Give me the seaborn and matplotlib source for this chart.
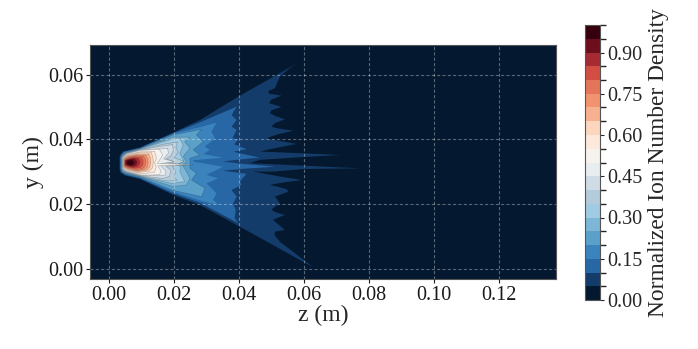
import numpy as np
import matplotlib
matplotlib.use('Agg')
import matplotlib.pyplot as plt
from matplotlib.cm import ScalarMappable
from matplotlib.colors import BoundaryNorm, ListedColormap
import seaborn as sns

# contour outlines, z and y in mm
z_05 = [57.7,55.6,52.6,51.1,49.0,49.3,53.1,50,49.3,53.1,50,49.5,51,54.1,51,50,52,56.7,52,49,48.9,53,57.7,52,46.4,60,71.1,60,46.4,43.4,60,77.3,60,50.6,44.4,52,59.3,54,49.5,52,54.7,55.2,53,51.1,52.6,51,50,51.5,54.1,52,50.5,52.5,54.1,51.1,51,52.6,62.9,40.3,28,19.7,9.5,4.8,3.5,3.2,3.2,3.5,4.3,9.5,19.7,28,39.8]
y_05 = [63.3,61.9,59.4,55.8,54.9,54.1,53.5,52.3,51.2,50,49,48.1,47.3,46.2,45,43.9,43.4,42.7,41.6,40.6,40.2,39.5,38.6,37.5,36.3,35.7,35.2,34.6,33.7,32.7,31.9,31.1,30.9,30.1,30.1,28.7,27.5,26.8,26,25.4,24.7,23.9,23.1,22.4,20.3,19.2,18.3,17.5,16.7,15.9,15.2,13.5,12.1,11.6,10.5,8.5,0.6,13.1,19.8,22.9,27.8,28.9,29.8,31,34.5,35.4,36.3,37.5,42.1,46,53.2]
z_10 = [39.3,37.7,39.3,37.7,39.3,38,39.8,38.5,42.3,38.3,46.4,40,35.1,42,51.1,42,35,42.3,40.3,40.8,37.7,39.3,38.2,39,38.7,39.8,28,19.7,9.5,5,3.7,3.4,3.4,3.7,4.5,9.5,19.7,28]
y_10 = [50.1,47.5,46,43.9,43,40.4,40,38.5,37,36.2,34.4,33.8,33.2,32.4,31.6,31,30.4,29.4,27,26,24.4,22.4,20.3,18.3,15.7,14.2,20.5,23.4,28,29.1,29.9,31,34.5,35.3,36.2,37.4,41.9,45.3]
z_15 = [33.1,31.5,32.6,29.5,31,29,35.1,26,25.9,35.1,30,33.6,30,33.1,32,33.6,28,19.7,9.5,5,3.9,3.6,3.6,3.9,4.7,9.5,19.7,28]
y_15 = [45.2,42.4,40.4,37.8,36.8,35.5,34.4,33.6,33.2,31.6,29.1,28,26.5,23.4,21.4,19.8,21.2,23.9,28.2,29.3,30,31,34.5,35.2,36.1,37.3,41.7,43.8]
z_20 = [28.5,26.9,29,25.9,28,24.9,24.9,26.9,25.4,29.5,28.5,19.7,9.5,5,4,3.7,3.7,4,4.9,9.5,19.7]
y_20 = [43.1,41.4,39.3,36.8,35.2,34.2,31.1,29.6,27.5,25,22.4,24.3,28.4,29.5,30.1,31,34.5,35.1,36,37.2,41.4]
z_25 = [24.9,23.3,24.9,22.8,23.8,22.5,23.8,24.9,23.8,19.7,9.5,5.1,4.1,3.8,3.8,4.1,5,9.5,19.7]
y_25 = [40.7,39.3,37.3,34.7,33,32.3,30.1,28,26,25.5,28.6,29.7,30.2,31,34.5,35,35.9,37.1,40.7]
z_30 = [21.8,22.8,21.8,23,21,22,21.8,23.3,19.2,12,9.5,5.2,4.2,3.9,3.9,4.2,5.2,9.5,18.7]
y_30 = [40.4,38.3,35.7,33.2,32.3,31.6,30.1,27,26.5,28,28.7,29.8,30.3,31,34.5,35,35.8,37,39.9]
z_35 = [21,20.6,21.3,20,23,19.5,20.5,20,21,18,12,9.5,5.3,4.3,4,4,4.3,5.3,9.5,17]
y_35 = [39.2,37.6,36,34.4,33.3,31.5,30.2,28.4,27.4,27.2,28.2,28.8,29.9,30.4,31.1,34.4,34.9,35.8,36.9,38.6]
z_40 = [19.5,19.8,19,17.5,20,17.5,24,17.5,19,18.6,16.5,12,9.5,5.4,4.4,4.1,4.1,4.4,5.4,9.5,15.5]
y_40 = [38.4,36.7,35,34,33.2,32.8,32.2,31.8,30.5,28.6,28,28.5,28.9,30,30.5,31.2,34.3,34.8,35.7,36.8,37.8]
z_45 = [18,18.3,16.8,20,16,16,17.5,17.3,15,12,9.5,5.5,4.5,4.2,4.2,4.5,5.5,9.5,14]
y_45 = [37.2,35.8,34,33.1,32.6,31.8,30.2,29,28.9,28.8,29,30.1,30.6,31.3,34.2,34.7,35.6,36.7,37]
z_50 = [15.5,16.5,15.5,14.8,26,15,16,15.5,12,9.5,5.6,4.6,4.3,4.3,4.6,5.6,9.5,13]
y_50 = [37,35.2,33.6,32.6,32.2,31.9,30.3,29.2,29,29.1,30.2,30.7,31.4,34.1,34.6,35.5,36.6,36.9]
z_55 = [14,14.6,14,14.5,14,11,9.5,5.7,4.7,4.4,4.4,4.7,5.7,9.5,11]
y_55 = [36.3,34.3,32.8,31.6,29.9,29.5,29.4,30.4,30.9,31.5,34,34.5,35.3,36.2,36.4]
z_60 = [13,13.5,13.6,13.3,12.4,9,5.8,4.8,4.5,4.5,4.8,5.8,9]
y_60 = [35.9,34.5,32.8,31.2,30.3,29.8,30.6,31.1,31.6,33.9,34.4,35.1,35.9]
z_65 = [12.2,12.7,12.8,12.5,11.7,9,5.9,4.9,4.6,4.6,4.9,5.9,9]
y_65 = [35.5,34.3,32.8,31.4,30.6,30.1,30.8,31.3,31.8,33.8,34.3,34.9,35.5]
z_70 = [11.3,11.9,12,11.7,11,8.5,6,5,4.7,4.7,5,6,8.5]
y_70 = [35.1,34.1,32.8,31.5,30.8,30.3,31,31.4,31.9,33.7,34.2,34.7,35.2]
z_75 = [10.6,11.2,11.3,11,10.3,8.5,6.1,5.1,4.8,4.8,5.1,6.1,8.5]
y_75 = [34.8,33.9,32.8,31.7,31,30.7,31.2,31.6,32,33.6,34,34.5,34.9]
z_80 = [9.9,10.4,10.5,10.2,9.6,8,6.2,5.2,4.9,4.9,5.2,6.2,8]
y_80 = [34.4,33.7,32.8,31.9,31.3,31.1,31.4,31.8,32.1,33.5,33.8,34.3,34.6]
z_85 = [9,9.4,9.5,9.2,8.6,7.5,6.3,5.3,5,5,5.3,6.3,7.5]
y_85 = [34.1,33.5,32.8,32.1,31.6,31.4,31.6,32,32.2,33.4,33.7,34,34.3]
z_90 = [8.1,8.5,8.5,8.1,7.4,6.4,5.4,5.1,5.1,5.4,6.4,7.4]
y_90 = [33.8,33.3,32.6,32.1,31.8,31.8,32.2,32.4,33.3,33.6,33.9,34]
z_95 = [7.2,7.6,7.5,6.9,6,5.5,5.5,6,6.9]
y_95 = [33.5,33,32.5,32.1,32.2,32.5,33.1,33.5,33.6]

outlines = [(z_05, y_05), (z_10, y_10), (z_15, y_15), (z_20, y_20), (z_25, y_25),
            (z_30, y_30), (z_35, y_35), (z_40, y_40), (z_45, y_45), (z_50, y_50),
            (z_55, y_55), (z_60, y_60), (z_65, y_65), (z_70, y_70), (z_75, y_75),
            (z_80, y_80), (z_85, y_85), (z_90, y_90), (z_95, y_95)]
levels = np.arange(0, 1.01, 0.05)
cbar_ticks = [0.0, 0.15, 0.30, 0.45, 0.60, 0.75, 0.90]
x_ticks = [0.00, 0.02, 0.04, 0.06, 0.08, 0.10, 0.12]
y_ticks = [0.00, 0.02, 0.04, 0.06]

band_colors = ['#04192f', '#143c6b', '#2767a5', '#3a83bd', '#5aa0c8', '#7db6d6', '#a0cbe2',
               '#b3cbdb', '#cfdbe5', '#e8edf0', '#f6f2ee', '#fde9dc', '#fdd7bd', '#f7b090',
               '#f1936f', '#e5755a', '#d34e42', '#a52a32', '#6d0e1c', '#36000f']

sns.set_theme(style='ticks')
plt.rcParams['font.family'] = 'Liberation Serif'
palette = sns.color_palette(band_colors)
cmap = ListedColormap(palette)

fig = plt.figure(figsize=(6.98, 3.49), dpi=100)
ax = fig.add_axes([90 / 698, 1 - 279 / 349, 466 / 698, 234 / 349])
ax.set_facecolor(palette[0])

# nested bands, lowest level first
for i, (z, y) in enumerate(outlines):
    z = np.array(z) * 1e-3
    y = np.array(y) * 1e-3
    ax.fill(z, y, color=palette[i + 1], lw=0, zorder=2 + i * 0.01)
    if i >= 3:
        ax.plot(np.r_[z, z[0]], np.r_[y, y[0]], color='k', lw=0.5, alpha=0.25, zorder=2 + i * 0.01)

ax.set_xlim(-0.0059, 0.1377)
ax.set_ylim(-0.0030, 0.0691)
ax.set_xticks(x_ticks)
ax.set_yticks(y_ticks)
ax.set_xticklabels([f'{t:.2f}' for t in x_ticks])
ax.set_yticklabels([f'{t:.2f}' for t in y_ticks])
ax.tick_params(labelsize=14.5, length=3, width=0.8, colors='k', pad=2)
ax.grid(True, color='white', ls=(0, (2.8, 2)), lw=0.8, alpha=0.35, zorder=5)
ax.set_axisbelow(False)
for s in ax.spines.values():
    s.set_color('#555555')
    s.set_linewidth(0.8)
ax.set_xlabel('z (m)', fontsize=17, labelpad=0)
ax.set_ylabel('y (m)', fontsize=17, labelpad=3)

cax = fig.add_axes([585 / 698, 1 - 300 / 349, 15 / 698, 275 / 349])
sm = ScalarMappable(norm=BoundaryNorm(levels, 20), cmap=cmap)
cb = fig.colorbar(sm, cax=cax, ticks=cbar_ticks, spacing='proportional')
cb.ax.set_yticklabels([f'{t:.2f}' for t in cbar_ticks])
cb.ax.tick_params(labelsize=14.5, length=3, width=0.8, pad=2)
cb.outline.set_edgecolor('#555555')
cb.outline.set_linewidth(0.8)
cb.set_label('Normalized Ion Number Density', fontsize=16.8, labelpad=4)

fig.savefig('out.png', dpi=100)
